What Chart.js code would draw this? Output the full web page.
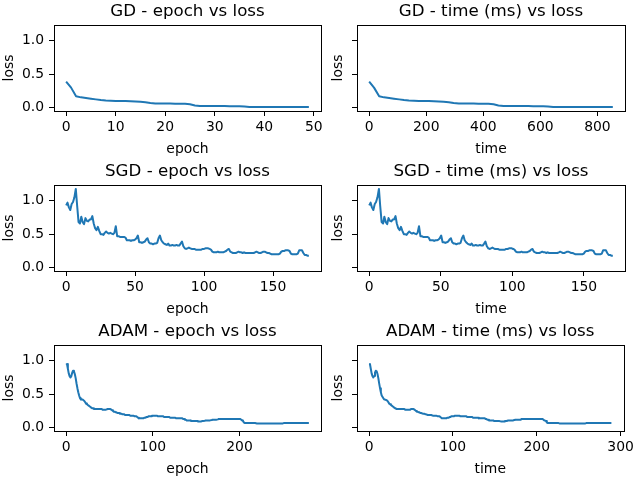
<!DOCTYPE html>
<html>
<head>
<meta charset="utf-8">
<script src="https://cdn.jsdelivr.net/npm/chart.js@4/dist/chart.umd.min.js"></script>
<style>
  html, body { margin: 0; padding: 0; background: #fff; overflow: hidden; }
  .cell { position: absolute; }
  canvas { display: block; }
</style>
</head>
<body>
<div class="cell" style="left:0px;top:0px"><canvas id="gdEpoch" width="337" height="160"></canvas></div>
<div class="cell" style="left:318px;top:0px"><canvas id="gdTime" width="319" height="160"></canvas></div>
<div class="cell" style="left:0px;top:160px"><canvas id="sgdEpoch" width="337" height="160"></canvas></div>
<div class="cell" style="left:318px;top:160px"><canvas id="sgdTime" width="319" height="160"></canvas></div>
<div class="cell" style="left:0px;top:320px"><canvas id="adamEpoch" width="337" height="160"></canvas></div>
<div class="cell" style="left:318px;top:320px"><canvas id="adamTime" width="319" height="160"></canvas></div>
<script>
// ---- datos: loss por época y tiempo acumulado (ms) ----
const gdLoss = [
  0.39, 0.30, 0.17, 0.155, 0.145, 0.135, 0.125, 0.115, 0.107, 0.103,
  0.100, 0.100, 0.099, 0.097, 0.093, 0.088, 0.083, 0.072, 0.064, 0.062,
  0.062, 0.062, 0.061, 0.060, 0.058, 0.053, 0.035, 0.027, 0.026, 0.026,
  0.025, 0.025, 0.025, 0.024, 0.024, 0.023, 0.019, 0.013, 0.011, 0.011,
  0.011, 0.010, 0.010, 0.010, 0.010, 0.010, 0.010, 0.010, 0.010, 0.010
];
const gdTime = [
  0, 17, 35, 52, 70, 87, 105, 122, 139, 157,
  174, 192, 209, 227, 244, 261, 279, 296, 314, 331,
  349, 366, 383, 401, 418, 436, 453, 471, 488, 505,
  523, 540, 558, 575, 593, 610, 627, 645, 662, 680,
  697, 715, 732, 749, 767, 784, 802, 819, 837, 854
];

const sgdLoss = [
  0.93, 0.97, 0.90, 0.86, 0.95, 0.98, 1.05, 1.175, 0.92, 0.68,
  0.66, 0.76, 0.68, 0.65, 0.74, 0.70, 0.69, 0.72, 0.72, 0.77,
  0.66, 0.59, 0.56, 0.61, 0.55, 0.50, 0.50, 0.49, 0.52, 0.54,
  0.52, 0.51, 0.52, 0.51, 0.50, 0.52, 0.62, 0.47, 0.47, 0.46,
  0.46, 0.46, 0.46, 0.45, 0.41, 0.41, 0.41, 0.40, 0.41, 0.41,
  0.42, 0.44, 0.48, 0.38, 0.38, 0.37, 0.38, 0.39, 0.42, 0.44,
  0.38, 0.36, 0.36, 0.35, 0.36, 0.36, 0.37, 0.44, 0.48, 0.41,
  0.38, 0.36, 0.35, 0.34, 0.36, 0.33, 0.33, 0.34, 0.33, 0.33,
  0.34, 0.33, 0.33, 0.36, 0.39, 0.32, 0.29, 0.28, 0.29, 0.30,
  0.29, 0.28, 0.28, 0.28, 0.27, 0.27, 0.27, 0.27, 0.27, 0.28,
  0.28, 0.29, 0.29, 0.29, 0.28, 0.27, 0.24, 0.23, 0.23, 0.23,
  0.24, 0.23, 0.23, 0.23, 0.23, 0.24, 0.25, 0.27, 0.28, 0.24,
  0.23, 0.22, 0.22, 0.22, 0.23, 0.24, 0.23, 0.23, 0.22, 0.23,
  0.22, 0.22, 0.22, 0.22, 0.22, 0.22, 0.22, 0.23, 0.24, 0.23,
  0.22, 0.22, 0.23, 0.24, 0.24, 0.23, 0.22, 0.22, 0.21, 0.20,
  0.20, 0.20, 0.20, 0.20, 0.20, 0.21, 0.24, 0.25, 0.25, 0.26,
  0.26, 0.26, 0.25, 0.21, 0.20, 0.20, 0.20, 0.20, 0.21, 0.26,
  0.26, 0.26, 0.22, 0.19, 0.19, 0.18, 0.18
];
const sgdTime = [
  0, 1.0, 1.9, 2.9, 3.9, 4.8, 5.8, 6.8, 7.7, 8.7,
  9.7, 10.6, 11.6, 12.6, 13.5, 14.5, 15.5, 16.4, 17.4, 18.4,
  19.3, 20.3, 21.3, 22.2, 23.2, 24.2, 25.1, 26.1, 27.1, 28.0,
  29.0, 30.0, 30.9, 31.9, 32.9, 33.8, 34.8, 35.8, 36.7, 37.7,
  38.7, 39.6, 40.6, 41.6, 42.5, 43.5, 44.5, 45.4, 46.4, 47.4,
  48.4, 49.3, 50.3, 51.3, 52.2, 53.2, 54.2, 55.1, 56.1, 57.1,
  58.0, 59.0, 60.0, 60.9, 61.9, 62.9, 63.8, 64.8, 65.8, 66.7,
  67.7, 68.7, 69.6, 70.6, 71.6, 72.5, 73.5, 74.5, 75.4, 76.4,
  77.4, 78.3, 79.3, 80.3, 81.2, 82.2, 83.2, 84.1, 85.1, 86.1,
  87.0, 88.0, 89.0, 89.9, 90.9, 91.9, 92.8, 93.8, 94.8, 95.7,
  96.7, 97.7, 98.6, 99.6, 100.6, 101.5, 102.5, 103.5, 104.4, 105.4,
  106.4, 107.3, 108.3, 109.3, 110.2, 111.2, 112.2, 113.1, 114.1, 115.1,
  116.0, 117.0, 118.0, 118.9, 119.9, 120.9, 121.8, 122.8, 123.8, 124.7,
  125.7, 126.7, 127.6, 128.6, 129.6, 130.5, 131.5, 132.5, 133.4, 134.4,
  135.4, 136.3, 137.3, 138.3, 139.2, 140.2, 141.2, 142.1, 143.1, 144.1,
  145.1, 146.0, 147.0, 148.0, 148.9, 149.9, 150.9, 151.8, 152.8, 153.8,
  154.7, 155.7, 156.7, 157.6, 158.6, 159.6, 160.5, 161.5, 162.5, 163.4,
  164.4, 165.4, 166.3, 167.3, 168.3, 169.2, 170.2
];

const adamLoss = [
  0.94, 0.95, 0.88, 0.81, 0.77, 0.75, 0.77, 0.82, 0.85, 0.84,
  0.80, 0.74, 0.66, 0.59, 0.53, 0.48, 0.44, 0.42, 0.42, 0.42,
  0.41, 0.40, 0.38, 0.36, 0.35, 0.34, 0.33, 0.32, 0.31, 0.30,
  0.29, 0.29, 0.28, 0.28, 0.28, 0.28, 0.28, 0.28, 0.28, 0.28,
  0.28, 0.28, 0.27, 0.27, 0.27, 0.27, 0.27, 0.27, 0.28, 0.28,
  0.28, 0.28, 0.27, 0.26, 0.25, 0.24, 0.24, 0.23, 0.23, 0.22,
  0.22, 0.22, 0.21, 0.21, 0.21, 0.20, 0.20, 0.20, 0.19, 0.19,
  0.19, 0.19, 0.19, 0.19, 0.18, 0.18, 0.18, 0.18, 0.18, 0.17,
  0.17, 0.17, 0.16, 0.15, 0.14, 0.14, 0.14, 0.14, 0.14, 0.14,
  0.15, 0.15, 0.15, 0.16, 0.16, 0.17, 0.17, 0.17, 0.17, 0.18,
  0.18, 0.18, 0.18, 0.18, 0.18, 0.18, 0.17, 0.17, 0.17, 0.17,
  0.17, 0.17, 0.17, 0.16, 0.16, 0.16, 0.16, 0.16, 0.16, 0.16,
  0.15, 0.15, 0.15, 0.15, 0.15, 0.15, 0.15, 0.14, 0.14, 0.14,
  0.14, 0.14, 0.14, 0.14, 0.14, 0.13, 0.13, 0.12, 0.12, 0.11,
  0.11, 0.11, 0.11, 0.11, 0.10, 0.10, 0.10, 0.10, 0.10, 0.10,
  0.10, 0.10, 0.095, 0.095, 0.095, 0.095, 0.095, 0.10, 0.10, 0.10,
  0.105, 0.11, 0.11, 0.11, 0.11, 0.11, 0.11, 0.11, 0.115, 0.12,
  0.12, 0.12, 0.12, 0.12, 0.12, 0.125, 0.13, 0.13, 0.13, 0.13,
  0.13, 0.13, 0.13, 0.13, 0.13, 0.13, 0.13, 0.13, 0.13, 0.13,
  0.13, 0.13, 0.13, 0.13, 0.13, 0.13, 0.13, 0.13, 0.13, 0.13,
  0.13, 0.13, 0.12, 0.11, 0.10, 0.08, 0.07, 0.07, 0.07, 0.07,
  0.07, 0.07, 0.07, 0.07, 0.07, 0.07, 0.07, 0.07, 0.07, 0.07,
  0.065, 0.065, 0.065, 0.065, 0.065, 0.065, 0.065, 0.065, 0.065, 0.065,
  0.065, 0.065, 0.065, 0.065, 0.065, 0.065, 0.065, 0.065, 0.065, 0.065,
  0.065, 0.065, 0.065, 0.065, 0.065, 0.065, 0.065, 0.065, 0.065, 0.065,
  0.065, 0.07, 0.07, 0.07, 0.07, 0.07, 0.07, 0.07, 0.07, 0.07,
  0.07, 0.07, 0.07, 0.07, 0.07, 0.07, 0.07, 0.07, 0.07, 0.07,
  0.07, 0.07, 0.07, 0.07, 0.07, 0.07, 0.07, 0.07, 0.07, 0.07,
  0.07
];
const adamTime = [
  0, 1, 2, 3, 4, 5, 6, 7, 8, 9,
  10, 11, 12, 13, 14, 15, 17, 18, 19, 20,
  21, 22, 23, 24, 25, 26, 27, 28, 29, 30,
  31, 32, 33, 34, 35, 36, 37, 38, 39, 40,
  41, 42, 43, 44, 45, 46, 47, 49, 50, 51,
  52, 53, 54, 55, 56, 57, 58, 59, 60, 61,
  62, 63, 64, 65, 66, 67, 68, 69, 70, 71,
  72, 73, 74, 75, 76, 77, 78, 79, 80, 82,
  83, 84, 85, 86, 87, 88, 89, 90, 91, 92,
  93, 94, 95, 96, 97, 98, 99, 100, 101, 102,
  103, 104, 105, 106, 107, 108, 109, 110, 111, 112,
  114, 115, 116, 117, 118, 119, 120, 121, 122, 123,
  124, 125, 126, 127, 128, 129, 130, 131, 132, 133,
  134, 135, 136, 137, 138, 139, 140, 141, 142, 143,
  144, 146, 147, 148, 149, 150, 151, 152, 153, 154,
  155, 156, 157, 158, 159, 160, 161, 162, 163, 164,
  165, 166, 167, 168, 169, 170, 171, 172, 173, 174,
  175, 176, 178, 179, 180, 181, 182, 183, 184, 185,
  186, 187, 188, 189, 190, 191, 192, 193, 194, 195,
  196, 197, 198, 199, 200, 201, 202, 203, 204, 205,
  206, 207, 208, 209, 211, 212, 213, 214, 215, 216,
  217, 218, 219, 220, 221, 222, 223, 224, 225, 226,
  227, 228, 229, 230, 231, 232, 233, 234, 235, 236,
  237, 238, 239, 240, 241, 243, 244, 245, 246, 247,
  248, 249, 250, 251, 252, 253, 254, 255, 256, 257,
  258, 259, 260, 261, 262, 263, 264, 265, 266, 267,
  268, 269, 270, 271, 272, 273, 275, 276, 277, 278,
  279, 280, 281, 282, 283, 284, 285, 286, 287, 288,
  289
];

// ticks de cada eje
const gdEpochTicks = [0, 10, 20, 30, 40, 50];
const gdTimeTicks = [0, 200, 400, 600, 800];
const sgdEpochTicks = [0, 50, 100, 150];
const sgdTimeTicks = [0, 50, 100, 150];
const adamEpochTicks = [0, 100, 200];
const adamTimeTicks = [0, 100, 200, 300];
const lossTicks = [0, 0.5, 1.0];

// época = índice del punto (como plot(loss) en matplotlib)
const epochsOf = arr => arr.map((_, i) => i);

// ==========================================
// ESTILO
// ==========================================
const BLUE = '#1f77b4';
const FONT = 'DejaVu Sans';
const tickFont = { family: FONT, size: 13.9 };

// eje y compartido: rango de todos los datos + 5%
const allLoss = gdLoss.concat(sgdLoss, adamLoss);
const lossMin = Math.min(...allLoss);
const lossMax = Math.max(...allLoss);
const yMin = lossMin - 0.05 * (lossMax - lossMin);
const yMax = lossMax + 0.05 * (lossMax - lossMin);

// título sobre el área del gráfico + marco completo
const axesDecor = {
  id: 'axesDecor',
  afterDatasetsDraw(chart, args, opts) {
    const { ctx, chartArea: a } = chart;
    ctx.save();
    ctx.strokeStyle = '#000';
    ctx.lineWidth = 1;
    ctx.strokeRect(Math.round(a.left) + 0.5, Math.round(a.top) + 0.5,
                   Math.round(a.right - a.left), Math.round(a.bottom - a.top));
    ctx.fillStyle = '#000';
    ctx.font = '16.67px "' + FONT + '"';
    ctx.textAlign = 'center';
    ctx.textBaseline = 'alphabetic';
    ctx.fillText(opts.text, (a.left + a.right) / 2, a.top - 9);
    ctx.restore();
  }
};

function makeChart(id, xs, ys, title, xLabel, xTicks, leftCol) {
  const xMax = xs[xs.length - 1];
  return new Chart(document.getElementById(id), {
    type: 'line',
    data: {
      datasets: [{
        data: xs.map((x, i) => ({ x: x, y: ys[i] })),
        borderColor: BLUE,
        borderWidth: 2,
        borderJoinStyle: 'round',
        pointRadius: 0,
        tension: 0,
        fill: false
      }]
    },
    options: {
      responsive: false,
      animation: false,
      events: [],
      layout: { padding: { top: 25, left: 0, bottom: 0, right: leftCol ? 16 : 12 } },
      plugins: {
        legend: { display: false },
        tooltip: { enabled: false },
        axesDecor: { text: title }
      },
      scales: {
        x: {
          type: 'linear',
          min: -0.05 * xMax,
          max: 1.05 * xMax,
          afterBuildTicks: s => { s.ticks = xTicks.map(v => ({ value: v })); },
          afterFit: s => { s.height = 49; },
          border: { display: false },
          grid: { drawOnChartArea: false, drawTicks: true, tickLength: 5, tickColor: '#000', color: '#000' },
          ticks: { font: tickFont, color: '#000', padding: 3, maxRotation: 0, callback: v => String(v) },
          title: { display: true, text: xLabel, font: tickFont, color: '#000', padding: { top: 0, bottom: 2.5 } }
        },
        y: {
          min: yMin,
          max: yMax,
          afterBuildTicks: s => { s.ticks = lossTicks.map(v => ({ value: v })); },
          afterFit: s => { s.width = leftCol ? 54 : 39; },
          border: { display: false },
          grid: { drawOnChartArea: false, drawTicks: true, tickLength: 5, tickColor: '#000', color: '#000' },
          ticks: { display: leftCol, font: tickFont, color: '#000', padding: 5, callback: v => v.toFixed(1) },
          title: { display: true, text: 'loss', font: tickFont, color: '#000', padding: { top: leftCol ? 1 : 12.5, bottom: 0 } }
        }
      }
    },
    plugins: [axesDecor]
  });
}

makeChart('gdEpoch', epochsOf(gdLoss), gdLoss, 'GD - epoch vs loss', 'epoch', gdEpochTicks, true);
makeChart('gdTime', gdTime, gdLoss, 'GD - time (ms) vs loss', 'time', gdTimeTicks, false);
makeChart('sgdEpoch', epochsOf(sgdLoss), sgdLoss, 'SGD - epoch vs loss', 'epoch', sgdEpochTicks, true);
makeChart('sgdTime', sgdTime, sgdLoss, 'SGD - time (ms) vs loss', 'time', sgdTimeTicks, false);
makeChart('adamEpoch', epochsOf(adamLoss), adamLoss, 'ADAM - epoch vs loss', 'epoch', adamEpochTicks, true);
makeChart('adamTime', adamTime, adamLoss, 'ADAM - time (ms) vs loss', 'time', adamTimeTicks, false);
</script>
</body>
</html>
